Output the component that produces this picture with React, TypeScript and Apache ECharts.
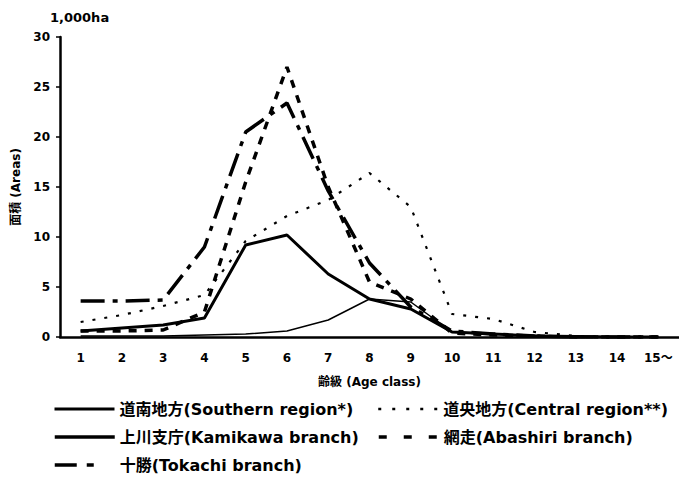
import React, { useEffect, useRef } from "react";
import * as echarts from "echarts";

const categories = ["1", "2", "3", "4", "5", "6", "7", "8", "9", "10", "11", "12", "13", "14", "15～"];
const southern = [0.1, 0.1, 0.1, 0.2, 0.3, 0.6, 1.7, 3.8, 3.5, 0.5, 0.3, 0.1, 0.05, 0, 0];
const central = [1.5, 2.2, 3.1, 4.2, 9.6, 12.1, 13.7, 16.4, 13.0, 2.3, 1.8, 0.5, 0.1, 0, 0];
const kamikawa = [0.6, 0.9, 1.2, 1.9, 9.2, 10.2, 6.3, 3.8, 2.8, 0.5, 0.3, 0.1, 0.05, 0, 0];
const abashiri = [0.6, 0.6, 0.7, 2.5, 15.5, 27.0, 15.0, 5.5, 3.8, 0.4, 0.2, 0.1, 0, 0, 0];
const tokachi = [3.6, 3.6, 3.7, 9.0, 20.5, 23.4, 14.6, 7.4, 3.0, 0.6, 0.3, 0.1, 0, 0, 0];

const seriesNames = [
  "道南地方(Southern region*)",
  "道央地方(Central region**)",
  "上川支庁(Kamikawa branch)",
  "網走(Abashiri branch)",
  "十勝(Tokachi branch)",
];
const yUnit = "1,000ha";
const yName = "面積 (Areas)";
const xName = "齢級 (Age class)";

const FONT = "'DejaVu Sans', 'Noto Sans CJK JP', sans-serif";

export default function App() {
  const ref = useRef<HTMLDivElement>(null);
  useEffect(() => {
    if (!ref.current) return;
    const chart = echarts.init(ref.current, null, { renderer: "svg" });
    const legendText = { fontFamily: FONT, fontSize: 16, fontWeight: "bold", color: "#000" };
    const mkLegend = (name: string, left: number, top: number, lineStyle: any) => ({
      data: [{ name, lineStyle, itemStyle: { opacity: 0, color: "rgba(0,0,0,0)", borderWidth: 0 } }],
      left,
      top,
      itemWidth: 60,
      itemHeight: 14,
      itemGap: 0,
      padding: 0,
      itemStyle: { opacity: 0, color: "rgba(0,0,0,0)", borderWidth: 0 },
      textStyle: legendText,
      selectedMode: false,
    });
    const mkLine = (name: string, data: number[], width: number, type: any) => ({
      name,
      type: "line",
      data,
      symbol: "none",
      smooth: false,
      lineStyle: { color: "#000", width, type },
      itemStyle: { color: "#000" },
    });
    chart.setOption({
      animation: false,
      backgroundColor: "#fff",
      grid: { left: 60, right: 0, top: 37, bottom: 142, containLabel: false },
      legend: [
        mkLegend(seriesNames[0], 53, 401, { width: 3, type: "solid", color: "#000", opacity: 1 }),
        mkLegend(seriesNames[1], 377, 401, { width: 2.5, type: [3, 11], color: "#000", opacity: 1 }),
        mkLegend(seriesNames[2], 53, 429, { width: 3.5, type: "solid", color: "#000", opacity: 1 }),
        mkLegend(seriesNames[3], 377, 429, { width: 3.5, type: [8, 17], color: "#000", opacity: 1 }),
        mkLegend(seriesNames[4], 53, 457, { width: 3.5, type: [22, 10, 7, 40], color: "#000", opacity: 1 }),
      ],
      graphic: [
        {
          type: "text",
          left: 50,
          top: 11,
          style: { text: yUnit, fontFamily: FONT, fontSize: 13, fontWeight: "bold", fill: "#000" },
        },
      ],
      xAxis: {
        type: "category",
        data: categories,
        boundaryGap: true,
        name: xName,
        nameLocation: "middle",
        nameGap: 39,
        nameTextStyle: { fontFamily: FONT, fontSize: 12, fontWeight: "bold", color: "#000" },
        axisLine: { lineStyle: { color: "#000", width: 2.5 } },
        axisTick: { inside: true, length: 4, lineStyle: { color: "#000", width: 1.5 } },
        axisLabel: { margin: 15, fontFamily: FONT, fontSize: 12, fontWeight: "bold", color: "#000" },
        splitLine: { show: false },
      },
      yAxis: {
        type: "value",
        min: 0,
        max: 30,
        interval: 5,
        name: yName,
        nameLocation: "middle",
        nameRotate: 90,
        nameGap: 35,
        nameTextStyle: { fontFamily: FONT, fontSize: 12, fontWeight: "bold", color: "#000" },
        axisLine: { show: true, lineStyle: { color: "#000", width: 2.5 } },
        axisTick: { show: true, inside: false, length: 4, lineStyle: { color: "#000", width: 1.5 } },
        axisLabel: { margin: 10, fontFamily: FONT, fontSize: 12, fontWeight: "bold", color: "#000" },
        splitLine: { show: false },
      },
      series: [
        mkLine(seriesNames[0], southern, 1.5, "solid"),
        mkLine(seriesNames[1], central, 2.2, [3, 9]),
        mkLine(seriesNames[2], kamikawa, 3, "solid"),
        mkLine(seriesNames[3], abashiri, 3.5, [8, 8]),
        mkLine(seriesNames[4], tokachi, 3.5, [24, 8, 5, 8]),
      ],
    });
    return () => chart.dispose();
  }, []);
  return (
    <div
      ref={ref}
      style={{ position: "fixed", left: 0, top: 0, width: 679, height: 479, background: "#fff" }}
    />
  );
}
